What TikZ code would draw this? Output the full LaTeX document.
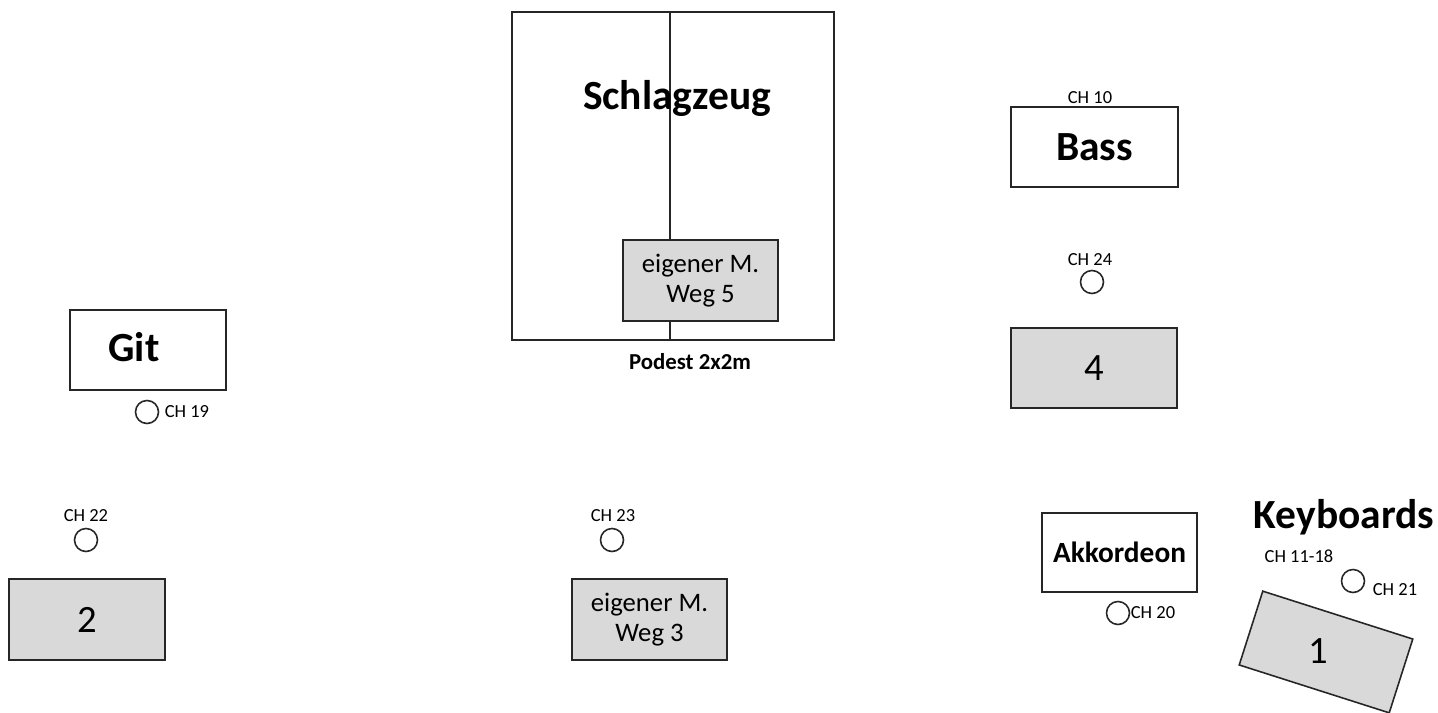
\documentclass[tikz,border=0pt]{standalone}
\usepackage{fontspec}
\setmainfont{Carlito}
\begin{document}
\begin{tikzpicture}[x=0.02cm, y=-0.02cm,
  every node/.style={font=\fontsize{10.5}{12}\selectfont, inner sep=0pt},
  box/.style={draw=black!85, line width=0.9pt},
  monbox/.style={box, fill=black!15},
  mic/.style={draw=black!85, line width=0.9pt, circle, minimum size=0.46cm},
  big/.style={font=\bfseries\fontsize{23.6}{28}\selectfont},
  num/.style={font=\fontsize{22}{26}\selectfont},
  wedge/.style={font=\fontsize{15.2}{17}\selectfont, align=center}]
\useasboundingbox (0,0) rectangle (1438,713);

% Podest with drums
\node[box, minimum width=6.44cm, minimum height=6.56cm] (podest) at (673,176) {};
\draw[draw=black!85, line width=0.9pt] ([xshift=-0.06cm]podest.north) -- ([xshift=-0.06cm]podest.south);
\node[big] (drums) at (677,98) {Schlagzeug};
\node[monbox, wedge, minimum width=3.1cm, minimum height=1.62cm] (mon5) at (700.5,280.5) {eigener M.\\Weg 5};
\node[font=\bfseries\fontsize{13}{15}\selectfont] (podestlbl) at (690,362) {Podest 2x2m};

% Bass
\node (ch10) at (1090,98) {CH 10};
\node[box, big, minimum width=3.34cm, minimum height=1.6cm] (bass) at (1094.5,147) {Bass};
\node (ch24lbl) at (1090,260) {CH 24};
\node[mic] (ch24) at (1092,282) {};
\node[monbox, num, minimum width=3.32cm, minimum height=1.6cm] (mon4) at (1094,368) {4};

% Git
\node[box, minimum width=3.12cm, minimum height=1.6cm] (git) at (148,350) {};
\node[big] (gitlbl) at (134,347) {Git};
\node[mic] (ch19) at (147,412) {};
\node (ch19lbl) at (187,412) {CH 19};
\node (ch22lbl) at (86,516) {CH 22};
\node[mic] (ch22) at (86,540) {};
\node[monbox, num, minimum width=3.12cm, minimum height=1.62cm] (mon2) at (87,619.5) {2};

% Gesang Mitte
\node (ch23lbl) at (613,516) {CH 23};
\node[mic] (ch23) at (612,540) {};
\node[monbox, wedge, minimum width=3.1cm, minimum height=1.62cm] (mon3) at (649.5,619.5) {eigener M.\\Weg 3};

% Akkordeon
\node[box, font=\bfseries\fontsize{16.7}{20}\selectfont, minimum width=3.1cm, minimum height=1.58cm] (akk) at (1119.5,552.5) {Akkordeon};
\node[mic] (ch20) at (1118,613) {};
\node (ch20lbl) at (1153,613) {CH 20};

% Keyboards
\node[big] (keys) at (1344,517) {Keyboards};
\node (ch1118) at (1299,556) {CH 11-18};
\node[mic] (ch21) at (1353,581) {};
\node (ch21lbl) at (1395,590) {CH 21};
\node[monbox, rotate=-17.7, minimum width=3.15cm, minimum height=1.55cm] (mon1) at (1326,652) {};
\node[num] (mon1lbl) at (1318,651) {1};
\end{tikzpicture}
\end{document}
